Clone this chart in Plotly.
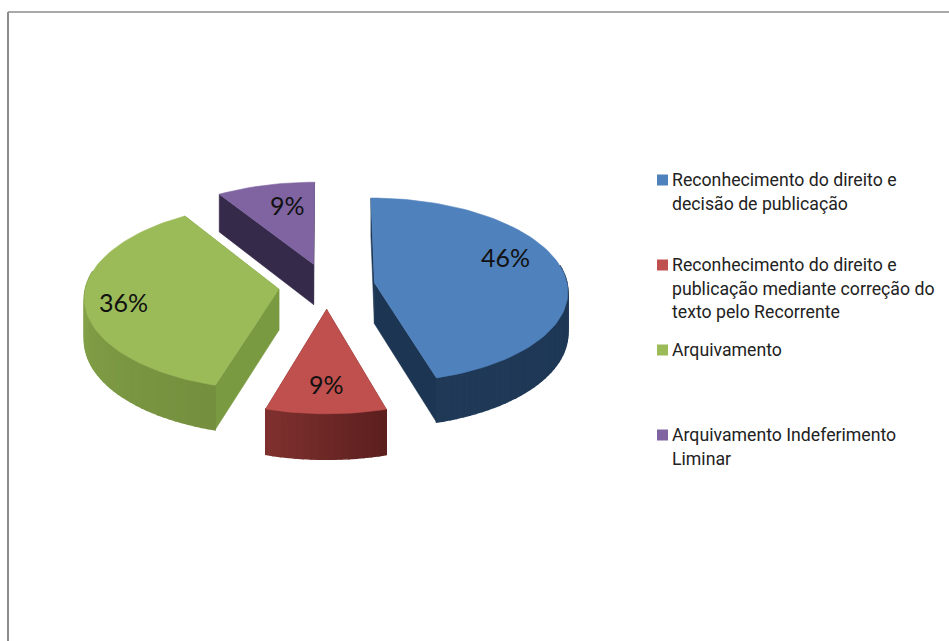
import numpy as np
import plotly.graph_objects as go

categories = ["Reconhecimento do direito e decisão de publicação",
              "Reconhecimento do direito e publicação mediante correção do texto pelo Recorrente",
              "Arquivamento",
              "Arquivamento Indeferimento Liminar"]
legend_lines = [["Reconhecimento do direito e", "decisão de publicação"],
                ["Reconhecimento do direito e", "publicação mediante correção do", "texto pelo Recorrente"],
                ["Arquivamento"],
                ["Arquivamento Indeferimento", "Liminar"]]
values = [45.5, 9.1, 36.4, 9.0]
labels = ["46%", "9%", "36%", "9%"]
top_colors = ["#4F81BD", "#C0504D", "#9BBB59", "#8064A2"]
wall_start = ["#1D3654", "#5C201F", "#748F3E", "#3A2E50"]
wall_end = ["#1F3957", "#7E302E", "#8FAF50", "#3A2E50"]
face_colors = ["#1C3552", "#6B2725", "#7A9A42", "#352A49"]

# pixel layout of the projected pie
CX, CY, RX, RY, PERSP, EXPL, DEPTH = 326.8, 286, 193, 92, 0.08, 0.25, 41
label_xy = [(505, 257), (326, 384), (123, 302), (287, 205)]
legend_y = [180, 265, 350, 435]
LINE_H = 23.6


def project(u, v, drop=0.0):
    s = 1.0 / (1.0 + PERSP * v)
    return CX + RX * u * s, CY - RY * v * s + drop * s


def mix(a, b, t):
    ca = [int(a[i:i + 2], 16) for i in (1, 3, 5)]
    cb = [int(b[i:i + 2], 16) for i in (1, 3, 5)]
    return "rgb(%d,%d,%d)" % tuple(round(x + (y - x) * t) for x, y in zip(ca, cb))


def poly(fig, xs, ys, color, lw=0.6):
    fig.add_trace(go.Scatter(x=list(xs), y=list(ys), mode="lines", fill="toself",
                             fillcolor=color, line=dict(color=color, width=lw),
                             hoverinfo="skip", showlegend=False))


fig = go.Figure()
fracs = np.array(values, float) / sum(values)
edges = np.concatenate([[0], np.cumsum(fracs)]) * 2 * np.pi
draw_order = [3, 0, 2, 1]

for i in draw_order:
    a0, a1 = edges[i], edges[i + 1]
    mid = (a0 + a1) / 2
    ax, ay = EXPL * np.sin(mid), EXPL * np.cos(mid)
    th = np.linspace(a0, a1, max(int((a1 - a0) / np.radians(2)) + 1, 6))
    us, vs = ax + np.sin(th), ay + np.cos(th)
    # radial faces
    for ang in (a0, a1):
        ue, ve = ax + np.sin(ang), ay + np.cos(ang)
        x1, y1 = project(ax, ay)
        x2, y2 = project(ue, ve)
        x3, y3 = project(ue, ve, DEPTH)
        x4, y4 = project(ax, ay, DEPTH)
        poly(fig, [x1, x2, x3, x4, x1], [y1, y2, y3, y4, y1], face_colors[i])
    # outer wall strips
    for k in range(len(th) - 1):
        if np.cos((th[k] + th[k + 1]) / 2) > 0.2:
            continue
        x1, y1 = project(us[k], vs[k])
        x2, y2 = project(us[k + 1], vs[k + 1])
        x3, y3 = project(us[k + 1], vs[k + 1], DEPTH)
        x4, y4 = project(us[k], vs[k], DEPTH)
        t = k / max(len(th) - 2, 1)
        poly(fig, [x1, x2, x3, x4, x1], [y1, y2, y3, y4, y1],
             mix(wall_start[i], wall_end[i], t), lw=1.5)
    # top surface
    tx, ty = project(us, vs)
    ax_px, ay_px = project(ax, ay)
    poly(fig, [ax_px, *tx, ax_px], [ay_px, *ty, ay_px], top_colors[i])

# legend keys
fig.add_trace(go.Scatter(x=[662.5] * 4, y=legend_y, mode="markers",
                         marker=dict(symbol="square", size=11, color=top_colors, line=dict(width=0)),
                         hoverinfo="skip", showlegend=False))

ann = []
for lab, (x, y) in zip(labels, label_xy):
    ann.append(dict(x=x, y=y, text=lab, showarrow=False, xanchor="center", yanchor="middle",
                    font=dict(family="Lato", size=25, color="#111111")))
for lines, y0 in zip(legend_lines, legend_y):
    for j, line in enumerate(lines):
        ann.append(dict(x=670, y=y0 + j * LINE_H, text=line, showarrow=False, xanchor="left",
                        yanchor="middle", font=dict(family="Roboto", size=17.7, color="#222222")))

shapes = [
    dict(type="line", x0=8, x1=949, y0=12, y1=12, line=dict(color="#8C8C8C", width=1.5)),
    dict(type="line", x0=8, x1=8, y0=12, y1=641, line=dict(color="#8C8C8C", width=2)),
]

fig.update_layout(
    width=949, height=641, margin=dict(l=0, r=0, t=0, b=0),
    paper_bgcolor="white", plot_bgcolor="white", showlegend=False,
    xaxis=dict(range=[0, 949], visible=False, fixedrange=True),
    yaxis=dict(range=[641, 0], visible=False, fixedrange=True),
    annotations=ann, shapes=shapes,
)
fig.write_html("out.html", config={"displayModeBar": False},
               post_script="document.body.style.margin='0';document.body.style.overflow='hidden';")
